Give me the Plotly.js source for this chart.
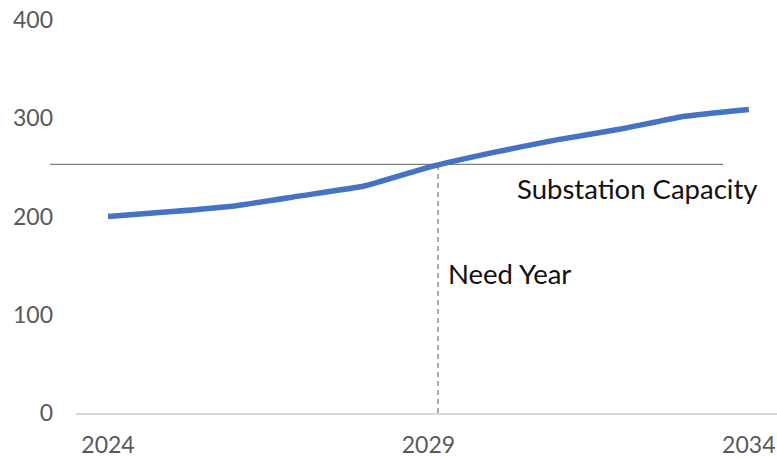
<!DOCTYPE html>
<html>
<head>
<meta charset="utf-8">
<script src="https://cdn.plot.ly/plotly-3.0.1.min.js"></script>
<style>html,body{margin:0;padding:0;background:#fff;}#chart{width:777px;height:459px;}</style>
</head>
<body>
<div id="chart"></div>
<script>
// Data
const years = [2024, 2025, 2026, 2027, 2028, 2029, 2030, 2031, 2032, 2033, 2034];
const load = [200, 205, 211, 221, 231, 250, 265, 278, 289, 302, 309];
const substationCapacity = 253;
const needYear = 2029.15;
const xTickLabels = [2024, 2029, 2034];
const yTickLabels = [0, 100, 200, 300, 400];
const capacityLabel = "Substation Capacity";
const needYearLabel = "Need Year";

const tickFont = {family: "Lato, 'Open Sans', sans-serif", size: 23, color: "#595959"};
const noteFont = {family: "Lato, 'Open Sans', sans-serif", size: 27.5, color: "#111111"};

const trace = {
  x: years, y: load, type: "scatter", mode: "lines",
  line: {color: "#4472C4", width: 5.5, shape: "spline", smoothing: 0.4},
  hoverinfo: "skip", showlegend: false
};

const layout = {
  width: 777, height: 459,
  margin: {l: 76, r: 0, t: 20, b: 46},
  paper_bgcolor: "#fff", plot_bgcolor: "#fff",
  showlegend: false,
  xaxis: {
    range: [2023.5, 2034.44], tickvals: xTickLabels, ticktext: xTickLabels.map(String),
    showgrid: false, zeroline: false, showline: true, linecolor: "#D9D9D9", linewidth: 1.5,
    ticks: "", tickfont: tickFont, ticklabelstandoff: 11, fixedrange: true
  },
  yaxis: {
    range: [0, 400], tickvals: yTickLabels, ticktext: yTickLabels.map(String),
    showgrid: false, zeroline: false, showline: false, ticks: "",
    tickfont: tickFont, ticklabelstandoff: 22, fixedrange: true
  },
  shapes: [
    {type: "line", xref: "paper", yref: "y", x0: -0.037, x1: 0.923,
     y0: substationCapacity, y1: substationCapacity,
     line: {color: "#7F7F7F", width: 1.2}, layer: "below"},
    {type: "line", xref: "x", yref: "y", x0: needYear, x1: needYear,
     y0: 0, y1: substationCapacity,
     line: {color: "#595959", width: 1, dash: "5px,4px"}, layer: "below"}
  ],
  annotations: [
    {text: capacityLabel, xref: "x", yref: "y", x: 2030.35, y: substationCapacity,
     xanchor: "left", yanchor: "middle", yshift: -24, showarrow: false, font: noteFont},
    {text: needYearLabel, xref: "x", yref: "y", x: needYear, y: 142,
     xanchor: "left", yanchor: "middle", xshift: 8, showarrow: false, font: noteFont}
  ]
};

Plotly.newPlot("chart", [trace], layout, {displayModeBar: false, staticPlot: true});
</script>
</body>
</html>
